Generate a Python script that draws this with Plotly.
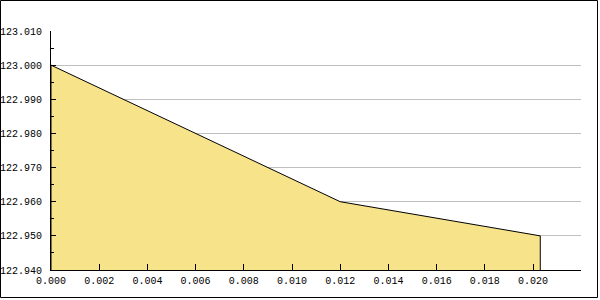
import plotly.graph_objects as go

x_vals = [0.0, 0.012, 0.0203]
y_vals = [123.000, 122.960, 122.950]
y_ticks = [122.94, 122.95, 122.96, 122.97, 122.98, 122.99, 123.00, 123.01]
x_ticks = [0.000, 0.002, 0.004, 0.006, 0.008, 0.010, 0.012, 0.014, 0.016, 0.018, 0.020]

Y_MIN, Y_MAX = 122.94, 123.01
X_MIN, X_MAX = 0.0, 0.02199

# Outline closed down to the axis baseline at the last x value
x_poly = [x_vals[0]] + x_vals + [x_vals[-1]]
y_poly = [Y_MIN] + y_vals + [Y_MIN]

FONT = dict(family="Liberation Mono, DejaVu Sans Mono, monospace", size=10, color="#000000")

fig = go.Figure()
fig.add_trace(go.Scatter(
    x=x_poly, y=y_poly, mode="lines", fill="toself",
    fillcolor="#F7E38A", line=dict(color="#000000", width=1),
    hoverinfo="skip", showlegend=False,
))

fig.update_layout(
    width=600, height=300,
    margin=dict(l=51, r=19, t=31, b=30),
    paper_bgcolor="#FFFFFF", plot_bgcolor="#FFFFFF",
    font=FONT,
    showlegend=False,
    xaxis=dict(
        range=[X_MIN, X_MAX], tickvals=x_ticks, tickformat=".3f",
        showgrid=False, zeroline=False, automargin=False,
        showline=True, linecolor="#000000", linewidth=1,
        ticks="inside", ticklen=6, tickcolor="#000000", tickwidth=1,
        tickfont=FONT, ticklabelstandoff=1,
    ),
    yaxis=dict(
        range=[Y_MIN, Y_MAX], tickvals=y_ticks, tickformat=".3f",
        showgrid=True, gridcolor="#C0C0C0", gridwidth=1, zeroline=False,
        automargin=False,
        showline=True, linecolor="#000000", linewidth=1,
        ticks="inside", ticklen=5, tickcolor="#000000", tickwidth=1,
        tickfont=FONT, ticklabelstandoff=6,
        minor=dict(dtick=0.005, tick0=122.945, ticks="inside", ticklen=3,
                   tickcolor="#000000", showgrid=False),
    ),
)

# outer border of the image
def px_x(p):
    return (p - 51) / 530.0

def px_y(p):
    return (270 - p) / 239.0

fig.add_shape(type="rect", xref="paper", yref="paper",
              x0=px_x(0.5), x1=px_x(597.5), y0=px_y(297.5), y1=px_y(0.5),
              line=dict(color="#000000", width=1), fillcolor="rgba(0,0,0,0)",
              layer="above")

fig.write_html("out.html")
